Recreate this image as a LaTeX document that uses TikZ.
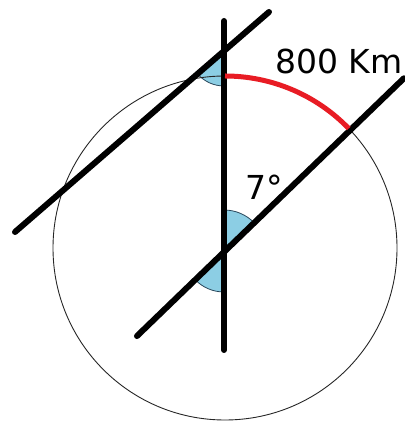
\documentclass[tikz,border=0pt]{standalone}
\usepackage{fontspec}
\newfontfamily\labelfont{DejaVu Sans}
\usepackage{tikz}
\usetikzlibrary{calc}

\begin{document}
\begin{tikzpicture}[x=1pt, y=1pt,
  thickline/.style={line width=6pt, line cap=round},
  wedge/.style={fill=wedgeblue, draw=wedgeline, line width=0.8pt},
  redarc/.style={draw=arcred, line width=5pt},
  lbl/.style={font=\labelfont\fontsize{33}{40}\selectfont, inner sep=0pt, anchor=base west}]
\definecolor{wedgeblue}{RGB}{140,206,228}
\definecolor{wedgeline}{RGB}{40,70,90}
\definecolor{arcred}{RGB}{232,28,36}
\useasboundingbox (0,0) rectangle (404,422);
% points
\coordinate (C) at (225,174);
\coordinate (T) at (224,401);
\coordinate (B) at (224,72);
\coordinate (P) at (224,371);
\coordinate (O) at (224,170);
\coordinate (u1) at (15,190);
\coordinate (u2) at (269,410);
\coordinate (l1) at ($(O)+(224:121)$);
\coordinate (l2) at ($(O)+(44:250)$);
% angles
\fill[wedge] (P) -- ++(221:35) arc[start angle=221, end angle=270, radius=35] -- cycle;
\fill[wedge] (O) -- ++(44:42) arc[start angle=44, end angle=90, radius=42] -- cycle;
\fill[wedge] (O) -- ++(224:40) arc[start angle=224, end angle=270, radius=40] -- cycle;
\draw[line width=0.9pt, black!85] (C) circle[radius=172];
% lines
\draw[thickline] (u1) -- (u2);
\draw[thickline] (l1) -- (l2);
\draw[thickline] (T) -- (B);
\draw[redarc] (C) ++(90:172) arc[start angle=90, end angle=44, radius=172];
\node[lbl] (dist) at (275,348) {800 Km};
\node[lbl] (ang) at (245,222) {7°};
\end{tikzpicture}
\end{document}
